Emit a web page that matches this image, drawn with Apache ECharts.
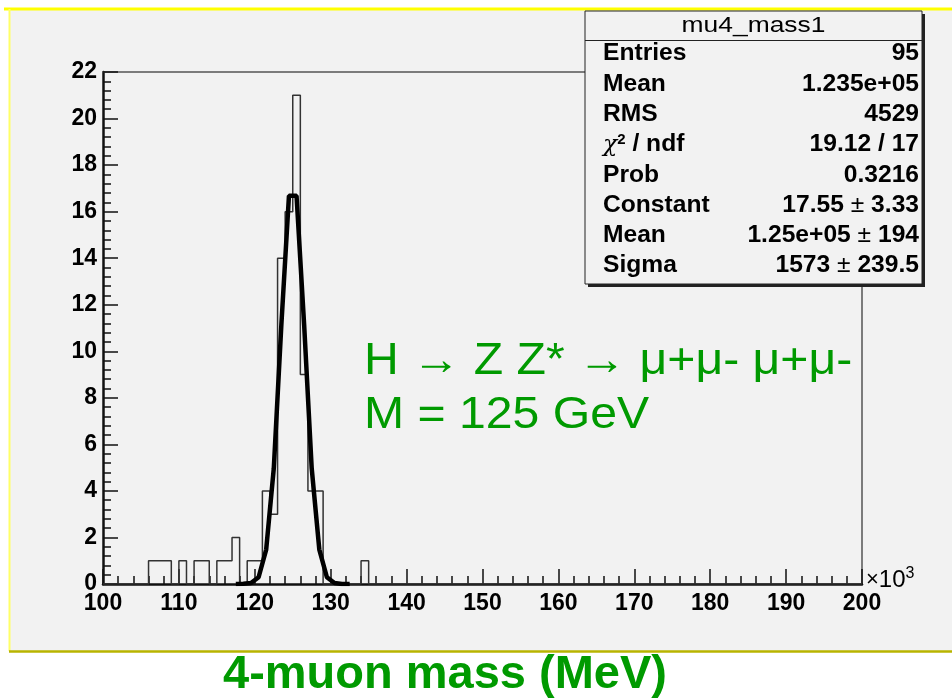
<!DOCTYPE html>
<html>
<head>
<meta charset="utf-8">
<script src="https://cdn.jsdelivr.net/npm/echarts@6/dist/echarts.min.js"></script>
<style>
html,body{margin:0;padding:0;background:#fff;}
#chart{width:952px;height:700px;}
</style>
</head>
<body>
<div id="chart"></div>
<script>
// ---- data ----
const xMin = 100, xMax = 200, binWidth = 1;
const yMin = 0, yMax = 22;
const binCenters = [106.5,107.5,108.5,110.5,112.5,113.5,115.5,116.5,117.5,119.5,120.5,121.5,122.5,123.5,124.5,125.5,126.5,127.5,128.5,134.5];
const binCounts  = [1,1,1,1,1,1,1,1,2,1,1,4,3,14,16,21,9,4,4,1];
const fitX = [117.5,118.5,119.5,120.5,121.5,122.5,123.5,124.5,125.5,126.5,127.5,128.5,129.5,130.5,131.5,132.5];
const fitY = [0.0,0.01,0.04,0.29,1.48,4.96,11.14,16.68,16.68,11.14,4.96,1.48,0.29,0.04,0.0,0.0];
const statTitle = 'mu4_mass1';
const statLabels = ['Entries','Mean','RMS','CHI','Prob','Constant','Mean','Sigma'];
const statValues = ['95','1.235e+05','4529','19.12 / 17','0.3216','17.55 ± 3.33','1.25e+05 ± 194','1573 ± 239.5'];
const annotLine1 = 'H → Z Z* → μ+μ- μ+μ-';
const annotLine2 = 'M = 125 GeV';
const xTitle = '4-muon mass (MeV)';

// ---- build histogram step outline ----
const nBins = Math.round((xMax - xMin) / binWidth);
const counts = new Array(nBins).fill(0);
binCenters.forEach((c, i) => {
  const idx = Math.floor((c - xMin) / binWidth);
  counts[idx] = binCounts[i];
});
const histData = [];
for (let i = 0; i < nBins; i++) histData.push([xMin + i * binWidth, counts[i]]);
histData.push([xMax, counts[nBins - 1]]);
const fitData = fitX.map((x, i) => [x, fitY[i]]);

const chart = echarts.init(document.getElementById('chart'), null, {renderer: 'canvas'});
const green = '#009a00';
const boldFont = 'Liberation Sans, Arial, sans-serif';

// stats box graphics
const boxL = 585, boxT = 11, boxR = 922, boxB = 284;
const rowY0 = 54, rowStep = 30.3;
const statEls = [];
statEls.push({type:'rect', z:100, shape:{x:boxL+3, y:boxT+3, width:boxR-boxL, height:boxB-boxT}, style:{fill:'#222'}});
statEls.push({type:'rect', z:101, shape:{x:boxL, y:boxT, width:boxR-boxL, height:boxB-boxT}, style:{fill:'#f2f2f2', stroke:'#222', lineWidth:1}});
statEls.push({type:'line', z:102, shape:{x1:boxL, y1:40.5, x2:boxR, y2:40.5}, style:{stroke:'#222', lineWidth:1}});
statEls.push({type:'text', z:103, x:(boxL+boxR)/2, y:26, scaleX:1.2, style:{text:statTitle, x:0, y:0, align:'center', verticalAlign:'middle', font:'22px Liberation Sans, Arial, sans-serif', fill:'#000'}});
const rich = {
  b:{fontFamily:boldFont, fontWeight:'bold', fontSize:23, color:'#000'},
  n:{fontFamily:boldFont, fontWeight:'normal', fontSize:23, color:'#000'},
  chi:{fontFamily:'DejaVu Serif, serif', fontStyle:'italic', fontSize:22, color:'#000'},
  sup:{fontFamily:boldFont, fontWeight:'bold', fontSize:14, color:'#000', verticalAlign:'top', padding:[0,0,10,0]}
};
statLabels.forEach((lab, i) => {
  const txt = lab === 'CHI' ? '{chi|χ}{sup|2}{b| / ndf}' : '{b|' + lab + '}';
  statEls.push({type:'text', z:103, x:603, y:rowY0 + i*rowStep, scaleX:1.07,
    style:{text:txt, rich:rich, x:0, y:0, align:'left', verticalAlign:'middle'}});
});
statValues.forEach((val, i) => {
  const parts = val.split(' ± ');
  const txt = parts.length === 2 ? '{b|' + parts[0] + '}{n| ± }{b|' + parts[1] + '}' : '{b|' + val + '}';
  statEls.push({type:'text', z:103, x:919, y:rowY0 + i*rowStep, scaleX:1.07,
    style:{text:txt, rich:rich, x:0, y:0, align:'right', verticalAlign:'middle'}});
});

const option = {
  backgroundColor:'#ffffff',
  animation:false,
  grid:{left:103, top:72, width:759, height:512, containLabel:false},
  xAxis:[{
    type:'value', min:xMin, max:xMax, interval:10,
    axisLine:{show:true, onZero:false, lineStyle:{color:'#111', width:2.5}},
    axisTick:{show:true, inside:true, length:15, lineStyle:{color:'#111', width:1.5}},
    minorTick:{show:true, splitNumber:5, length:8, lineStyle:{color:'#111', width:1.5}},
    axisLabel:{show:true, margin:8, color:'#000', fontFamily:boldFont, fontWeight:'bold', fontSize:23},
    splitLine:{show:false}
  },{
    type:'value', min:xMin, max:xMax, position:'top',
    axisLine:{show:true, onZero:false, lineStyle:{color:'#555', width:1.5}},
    axisTick:{show:false}, axisLabel:{show:false}, splitLine:{show:false}
  }],
  yAxis:[{
    type:'value', min:yMin, max:yMax, interval:2,
    axisLine:{show:true, onZero:false, lineStyle:{color:'#111', width:2.5}},
    axisTick:{show:true, inside:true, length:15, lineStyle:{color:'#111', width:1.5}},
    minorTick:{show:true, splitNumber:5, length:8, lineStyle:{color:'#111', width:1.5}},
    axisLabel:{show:true, margin:6, color:'#000', fontFamily:boldFont, fontWeight:'bold', fontSize:23},
    splitLine:{show:false}
  },{
    type:'value', min:yMin, max:yMax, position:'right',
    axisLine:{show:true, onZero:false, lineStyle:{color:'#555', width:1.5}},
    axisTick:{show:false}, axisLabel:{show:false}, splitLine:{show:false}
  }],
  series:[{
    type:'line', name:'hist', data:histData, step:'end', showSymbol:false, symbol:'none',
    lineStyle:{color:'#333', width:1.5}, z:3
  },{
    type:'line', name:'fit', data:fitData, showSymbol:false, symbol:'none', smooth:false,
    lineStyle:{color:'#000', width:4.5}, z:4
  }],
  graphic:[
    {type:'rect', z:-100, silent:true, shape:{x:9, y:9, width:943, height:642}, style:{fill:'#f2f2f2'}},
    {type:'line', z:-99, shape:{x1:4, y1:9, x2:952, y2:9}, style:{stroke:'#ffff00', lineWidth:3}},
    {type:'line', z:-99, shape:{x1:9.5, y1:9, x2:9.5, y2:651}, style:{stroke:'#ffff66', lineWidth:2}},
    {type:'line', z:-99, shape:{x1:9, y1:651.5, x2:952, y2:651.5}, style:{stroke:'#b8b400', lineWidth:2.5}},
    {type:'text', z:50, x:866, y:580, style:{text:'{m|×}{t|10}{s|3}', rich:{
      m:{fontFamily:boldFont, fontSize:22, color:'#222'},
      t:{fontFamily:boldFont, fontSize:24, color:'#000'},
      s:{fontFamily:boldFont, fontSize:16, color:'#000', verticalAlign:'top', padding:[0,0,13,0]}
    }, x:0, y:0, align:'left', verticalAlign:'middle'}},
    {type:'text', z:50, x:364, y:362, scaleX:1.07, style:{text:annotLine1, x:0, y:0, align:'left', verticalAlign:'middle', font:'45px Liberation Sans, Arial, sans-serif', fill:green}},
    {type:'text', z:50, x:364, y:416, scaleX:1.07, style:{text:annotLine2, x:0, y:0, align:'left', verticalAlign:'middle', font:'45px Liberation Sans, Arial, sans-serif', fill:green}},
    {type:'text', z:50, x:445, y:675, style:{text:xTitle, x:0, y:0, align:'center', verticalAlign:'middle', font:'bold 47px Liberation Sans, Arial, sans-serif', fill:green}}
  ].concat(statEls)
};
chart.setOption(option);
</script>
</body>
</html>
